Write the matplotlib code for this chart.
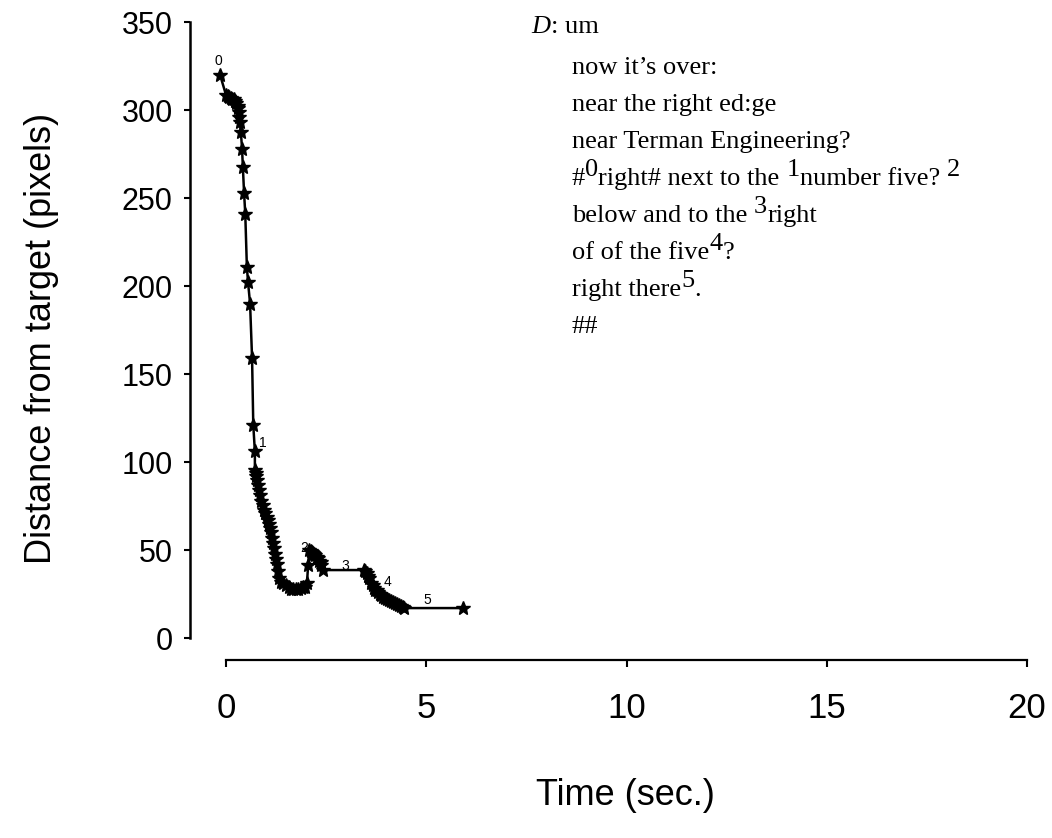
import matplotlib
matplotlib.use("Agg")
from matplotlib import pyplot as plt

# distance-to-target trace
time = [-0.15, 0.0, 0.04, 0.08, 0.12, 0.16, 0.2, 0.23, 0.26, 0.29, 0.31, 0.33,
        0.33, 0.34, 0.37, 0.4, 0.42, 0.45, 0.48, 0.52, 0.55, 0.6, 0.65, 0.68,
        0.72, 0.72, 0.74, 0.76, 0.78, 0.81, 0.83, 0.86, 0.88, 0.92, 0.95, 0.98,
        1.02, 1.05, 1.08, 1.1, 1.12, 1.15, 1.18, 1.2, 1.22, 1.25, 1.27, 1.3,
        1.32, 1.37, 1.42, 1.5, 1.56, 1.62, 1.68, 1.74, 1.8, 1.86, 1.92, 1.97,
        2.02, 2.05, 2.08, 2.11, 2.14, 2.17, 2.2, 2.23, 2.26, 2.3, 2.33, 2.36,
        2.38, 2.42, 3.45, 3.48, 3.52, 3.55, 3.58, 3.62, 3.66, 3.7, 3.73, 3.76,
        3.8, 3.84, 3.88, 3.93, 3.97, 4.02, 4.07, 4.12, 4.17, 4.22, 4.27, 4.32,
        4.37, 4.42, 4.45, 5.92]
dist = [320, 308.5, 308, 307.5, 307, 306.5, 306, 305, 304, 302.5, 301, 299,
        296, 293, 287.5, 278, 267.6, 253, 241, 211, 202, 190, 159, 121,
        106, 95.5, 94, 92, 90, 87, 84, 81, 78, 75.5, 73, 71,
        69, 67, 65, 62.5, 60, 57, 54, 51, 48, 45, 42, 38,
        34, 32, 31, 30, 29, 28, 28, 28, 28, 28.5, 29, 29,
        31, 41.5, 50, 49.5, 49, 48.5, 48, 47, 46, 45.5, 44, 43,
        41.5, 38.6, 38.6, 38, 37, 35.5, 34, 31, 30, 28.4, 27.5, 27,
        26, 25, 24.2, 23.5, 22.7, 22, 21.5, 21, 20.5, 20, 19.5, 18.8,
        18.2, 17.6, 17, 17]

# numbered points along the trace
mark_names = ['0', '1', '2', '3', '4', '5']
mark_x = [-0.2, 0.92, 1.95, 2.97, 4.02, 5.02]
mark_y = [328, 111, 51, 41, 32, 21.6]

xticks = [0, 5, 10, 15, 20]
yticks = [0, 50, 100, 150, 200, 250, 300, 350]

# transcript lines: runs of (text, raised)
transcript = [
    [("now it\u2019s over:", False)],
    [("near the right ed:ge", False)],
    [("near Terman Engineering?", False)],
    [("#", False), ("0", True), ("right# next to the ", False), ("1", True),
     ("number five? ", False), ("2", True)],
    [("below and to the ", False), ("3", True), ("right", False)],
    [("of of the five", False), ("4", True), ("?", False)],
    [("right there", False), ("5", True), (".", False)],
    [("##", False)],
]

W, H = 1052, 838
fig = plt.figure(figsize=(W / 100, H / 100), dpi=100)
sans = 'Liberation Sans'
serif = 'Liberation Serif'

ax = fig.add_axes([190 / W, 1 - 660 / H, (1027 - 190) / W, (660 - 22) / H])
ax.plot(time, dist, color='black', lw=1.8, marker='*', markersize=10.5)
for name, mx, my in zip(mark_names, mark_x, mark_y):
    ax.text(mx, my, name, fontsize=10, family=sans, ha='center', va='center')

ax.set_xlim(-0.9, 20)
ax.set_ylim(-12.5, 350)
for s in ['top', 'right']:
    ax.spines[s].set_visible(False)
ax.spines['left'].set_bounds(0, 350)
ax.spines['bottom'].set_bounds(0, 20)
ax.spines['left'].set_linewidth(1.8)
ax.spines['bottom'].set_linewidth(1.6)
ax.set_xticks(xticks)
ax.set_yticks(yticks)
ax.set_xticklabels([str(v) for v in xticks], fontsize=25, family=sans)
ax.set_yticklabels([str(v) for v in yticks], fontsize=22, family=sans)
ax.tick_params(axis='y', direction='out', length=4.5, width=1.5, pad=8)
ax.tick_params(axis='x', direction='out', length=5, width=1.5, pad=18)

fig.text(42 / W, 1 - 338 / H, 'Distance from target (pixels)', rotation=90,
         fontsize=26, family=sans, ha='center', va='center')
fig.text(625 / W, 1 - 795 / H, 'Time (sec.)', fontsize=26, family=sans,
         ha='center', va='center')

# transcript text block
renderer = fig.canvas.get_renderer()
tsize = 19


def run_width(s):
    t = fig.text(0, 0, s + '|', fontsize=tsize, family=serif)
    w1 = t.get_window_extent(renderer).width
    t.set_text('|')
    w2 = t.get_window_extent(renderer).width
    t.remove()
    return w1 - w2


fig.text(531 / W, 1 - 33 / H, 'D', fontsize=tsize, family=serif, style='italic',
         va='baseline')
fig.text((531 + run_width('D') * 1.05) / W, 1 - 33 / H, ': um', fontsize=tsize,
         family=serif, va='baseline')

base_y = 74
for i, line in enumerate(transcript):
    x = 572
    y = base_y + i * 37
    for s, up in line:
        fig.text(x / W, 1 - (y - (9 if up else 0)) / H, s, fontsize=tsize,
                 family=serif, va='baseline')
        x += run_width(s)

fig.savefig('out.png', dpi=100)
